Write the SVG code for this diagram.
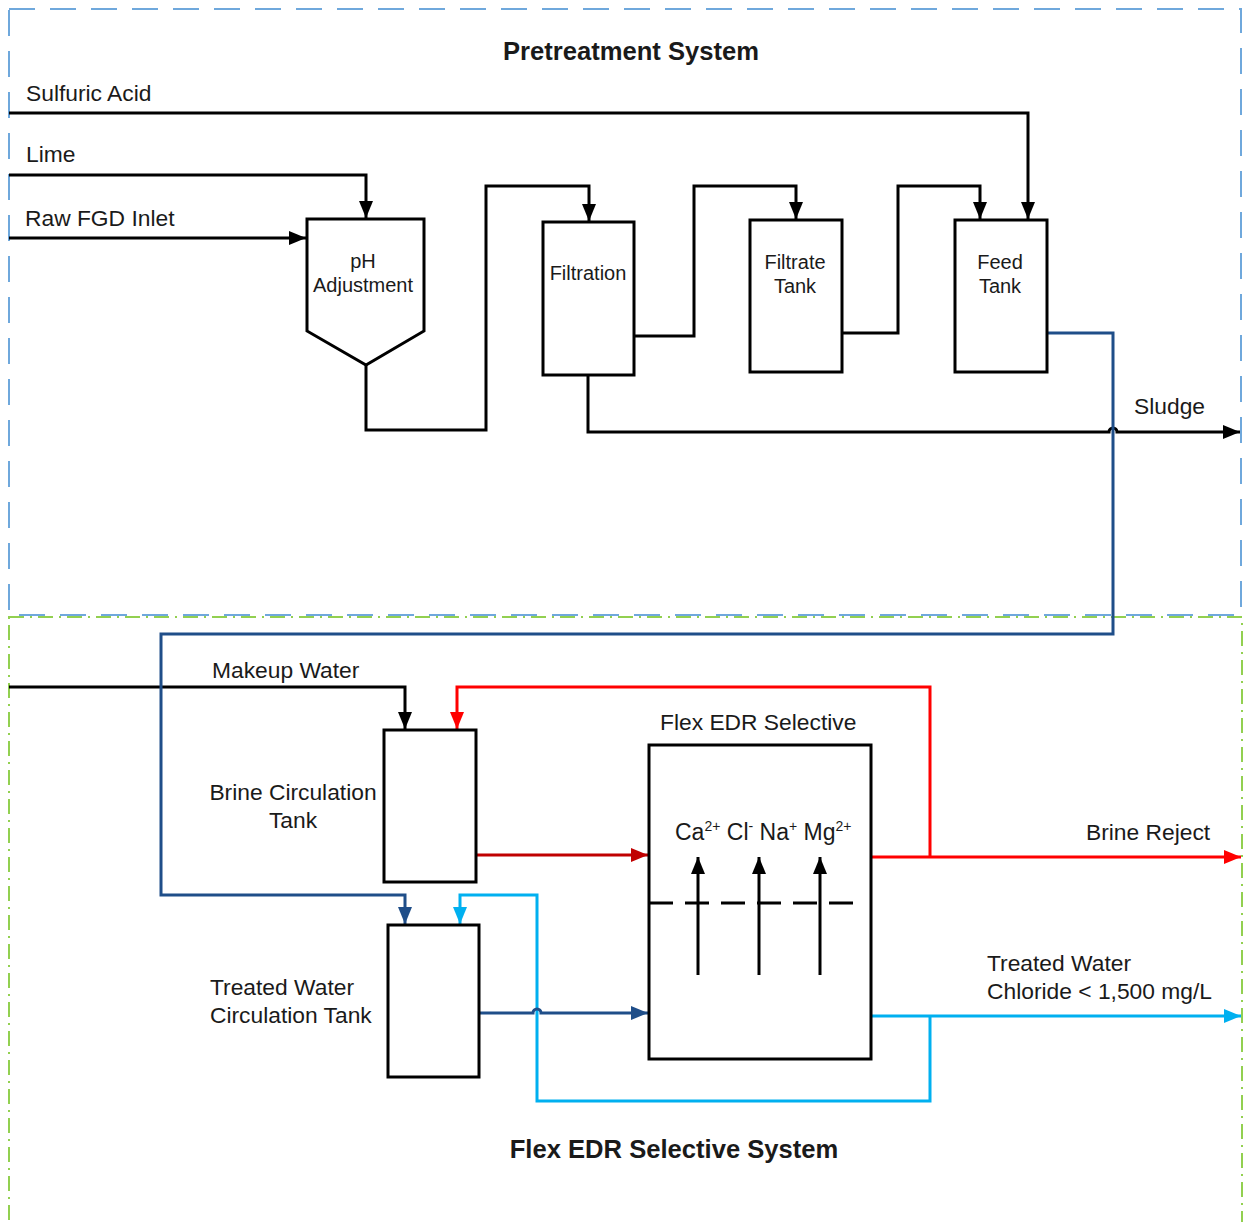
<svg xmlns="http://www.w3.org/2000/svg" width="1244" height="1222" viewBox="0 0 1244 1222">
<style>
text{font-family:"Liberation Sans",Arial,sans-serif;fill:#1a1a1a}
.lbl{font-size:22.8px}
.box{font-size:20px;text-anchor:middle}
.title{font-size:25.6px;font-weight:bold;text-anchor:middle}
.shape{fill:#fff;stroke:#000;stroke-width:3}
.c{fill:none;stroke-width:3;stroke-linejoin:miter}
.k{stroke:#000}
.db{stroke:#1F4E89}
.r{stroke:#FF0000}
.dr{stroke:#C00000}
.lb{stroke:#00B0F0}
</style>
<defs>
<marker id="ak" markerWidth="17" markerHeight="14" refX="17" refY="7" orient="auto" markerUnits="userSpaceOnUse"><path d="M0,0 L17,7 L0,14 Z" fill="#000"/></marker>
<marker id="adb" markerWidth="17" markerHeight="14" refX="17" refY="7" orient="auto" markerUnits="userSpaceOnUse"><path d="M0,0 L17,7 L0,14 Z" fill="#1F4E89"/></marker>
<marker id="ar" markerWidth="17" markerHeight="14" refX="17" refY="7" orient="auto" markerUnits="userSpaceOnUse"><path d="M0,0 L17,7 L0,14 Z" fill="#FF0000"/></marker>
<marker id="adr" markerWidth="17" markerHeight="14" refX="17" refY="7" orient="auto" markerUnits="userSpaceOnUse"><path d="M0,0 L17,7 L0,14 Z" fill="#C00000"/></marker>
<marker id="alb" markerWidth="17" markerHeight="14" refX="17" refY="7" orient="auto" markerUnits="userSpaceOnUse"><path d="M0,0 L17,7 L0,14 Z" fill="#00B0F0"/></marker>
</defs>
<rect width="1244" height="1222" fill="#fff"/>
<g id="pretreatment-boundary">
<rect x="9" y="9" width="1232" height="606" fill="none" stroke="#6FA8DC" stroke-width="2" stroke-dasharray="26 15"/>
</g>
<g id="edr-boundary">
<rect x="9" y="617" width="1233" height="620" fill="none" stroke="#92D050" stroke-width="2" stroke-dasharray="15 6 2 6"/>
</g>
<text class="title" x="631" y="60">Pretreatment System</text>
<text class="title" x="674" y="1158">Flex EDR Selective System</text>
<g id="connectors">
<path class="c k" d="M9,113 H1028 V219" marker-end="url(#ak)"/>
<path class="c k" d="M9,175 H366 V218" marker-end="url(#ak)"/>
<path class="c k" d="M9,238 H306" marker-end="url(#ak)"/>
<path class="c k" d="M366,365 V430 H486 V186 H589 V221" marker-end="url(#ak)"/>
<path class="c k" d="M634,336 H694 V186 H796 V219" marker-end="url(#ak)"/>
<path class="c k" d="M842,333 H898 V186 H980 V219" marker-end="url(#ak)"/>
<path class="c k" d="M588,375 V432 H1109 A4,4 0 0 1 1117,432 H1240" marker-end="url(#ak)"/>
<path class="c k" d="M9,687 H405 V729" marker-end="url(#ak)"/>
<path class="c db" d="M1047,333 H1113 V634 H161 V895 H405 V924" marker-end="url(#adb)"/>
<path class="c r" d="M930,857 V687 H457 V729" marker-end="url(#ar)"/>
<path class="c dr" d="M476,855 H648" marker-end="url(#adr)"/>
<path class="c r" d="M871,857 H1241" marker-end="url(#ar)"/>
<path class="c lb" d="M930,1016 V1101 H537 V895 H460 V924" marker-end="url(#alb)"/>
<path class="c db" d="M479,1013 H533 A4,4 0 0 1 541,1013 H648" marker-end="url(#adb)"/>
<path class="c lb" d="M871,1016 H1241" marker-end="url(#alb)"/>
</g>
<text class="lbl" x="26" y="101">Sulfuric Acid</text>
<text class="lbl" x="26" y="162">Lime</text>
<text class="lbl" x="25" y="226">Raw FGD Inlet</text>
<text class="lbl" x="1134" y="414">Sludge</text>
<text class="lbl" x="212" y="678">Makeup Water</text>
<text class="lbl" x="1086" y="840">Brine Reject</text>
<text class="lbl" x="987" y="971">Treated Water</text>
<text class="lbl" x="987" y="999">Chloride &lt; 1,500 mg/L</text>
<g id="ph-adjustment">
<path class="shape" d="M307,219 H424 V331 L366,365 L307,331 Z"/>
<text class="box" x="363" y="268">pH</text>
<text class="box" x="363" y="292">Adjustment</text>
</g>
<g id="filtration">
<rect class="shape" x="543" y="222" width="91" height="153"/>
<text class="box" x="588" y="280">Filtration</text>
</g>
<g id="filtrate-tank">
<rect class="shape" x="750" y="220" width="92" height="152"/>
<text class="box" x="795" y="269">Filtrate</text>
<text class="box" x="795" y="293">Tank</text>
</g>
<g id="feed-tank">
<rect class="shape" x="955" y="220" width="92" height="152"/>
<text class="box" x="1000" y="269">Feed</text>
<text class="box" x="1000" y="293">Tank</text>
</g>
<g id="brine-circulation-tank">
<rect class="shape" x="384" y="730" width="92" height="152"/>
<text class="lbl" x="293" y="800" text-anchor="middle">Brine Circulation</text>
<text class="lbl" x="293" y="828" text-anchor="middle">Tank</text>
</g>
<g id="treated-water-circulation-tank">
<rect class="shape" x="388" y="925" width="91" height="152"/>
<text class="lbl" x="210" y="995">Treated Water</text>
<text class="lbl" x="210" y="1023">Circulation Tank</text>
</g>
<g id="flex-edr-selective">
<text class="lbl" x="660" y="730">Flex EDR Selective</text>
<rect class="shape" x="649" y="745" width="222" height="314"/>
<text x="675" y="840" style="font-size:23px">Ca<tspan dy="-9" style="font-size:14px">2+</tspan><tspan dy="9"> Cl</tspan><tspan dy="-9" style="font-size:14px">-</tspan><tspan dy="9"> Na</tspan><tspan dy="-9" style="font-size:14px">+</tspan><tspan dy="9"> Mg</tspan><tspan dy="-9" style="font-size:14px">2+</tspan></text>
<path d="M649,903 H860" stroke="#000" stroke-width="3" stroke-dasharray="24 12" fill="none"/>
<path class="c k" d="M698,975 V857" marker-end="url(#ak)"/>
<path class="c k" d="M759,975 V857" marker-end="url(#ak)"/>
<path class="c k" d="M820,975 V857" marker-end="url(#ak)"/>
</g>
</svg>
